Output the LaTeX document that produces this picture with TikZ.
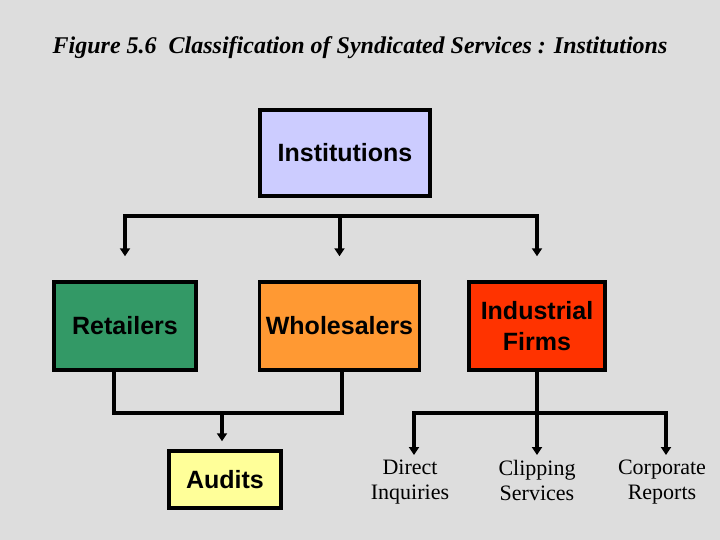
\documentclass[tikz,border=0pt]{standalone}
\usepackage{fontspec}
\setmainfont{Liberation Serif}
\setsansfont{Liberation Sans}
\usepackage{tikz}
\usetikzlibrary{arrows.meta}

\definecolor{pagegrey}{HTML}{DDDDDD}
\definecolor{instfill}{HTML}{CCCCFF}
\definecolor{retailfill}{HTML}{339966}
\definecolor{wholefill}{HTML}{FF9933}
\definecolor{firmfill}{HTML}{FF3300}
\definecolor{auditfill}{HTML}{FFFF99}

\begin{document}
\begin{tikzpicture}[
    x=1pt, y=-1pt,
    every node/.style={font=\sffamily\bfseries\fontsize{25}{31}\selectfont},
    box/.style={rectangle, draw=black, line width=3.5pt, inner sep=0pt, align=center},
    leaf/.style={font=\rmfamily\fontsize{22}{25}\selectfont, align=center, inner sep=0pt, anchor=north},
    link/.style={line width=4pt, black},
    arrow/.style={link, -{Triangle[width=10pt,length=8pt]}}
]

\fill[pagegrey] (0,0) rectangle (720,540);

\node[font=\rmfamily\bfseries\itshape\fontsize{24}{28}\selectfont, anchor=base] (title) at (360,54) {Figure 5.6\ \ Classification of Syndicated Services : Institutions};

\node[box, fill=instfill, minimum width=170pt, minimum height=86pt] (inst) at (345,153) {Institutions};
\node[box, fill=retailfill, minimum width=142pt, minimum height=88pt] (retail) at (125,326) {Retailers};
\node[box, fill=wholefill, minimum width=160pt, minimum height=88pt] (whole) at (339.5,326) {Wholesalers};
\node[box, fill=firmfill, minimum width=136pt, minimum height=88pt] (firms) at (537,326) {Industrial\\Firms};
\node[box, fill=auditfill, minimum width=112pt, minimum height=57pt] (audits) at (225,479.5) {Audits};

\node[leaf] (direct) at (410,460) {Direct\\Inquiries};
\node[leaf] (clip) at (537,460) {Clipping\\Services};
\node[leaf] (corp) at (662,460) {Corporate\\Reports};

% Institutions split
\coordinate (tbar) at (339.5,216);
\draw[arrow, shorten >=24pt] (tbar) -| (retail.north);
\draw[arrow, shorten >=24pt] (tbar) -| (firms.north);
\draw[arrow, shorten >=24pt] (tbar) -- (whole.north);

% Retailers + Wholesalers
\coordinate (join) at (222,413);
\draw[link] ([xshift=-11pt]retail.south) |- (join) -| ([xshift=2.5pt]whole.south);
\draw[arrow, shorten >=8pt] (join) -- (join |- audits.north);

% Industrial firms split
\coordinate (ibar) at (537,413);
\draw[arrow, shorten >=5pt] (firms) -- (clip);
\draw[arrow, shorten >=5pt] (ibar) -| ([xshift=4pt]direct.north);
\draw[arrow, shorten >=5pt] (ibar) -| ([xshift=4pt]corp.north);

\end{tikzpicture}
\end{document}
